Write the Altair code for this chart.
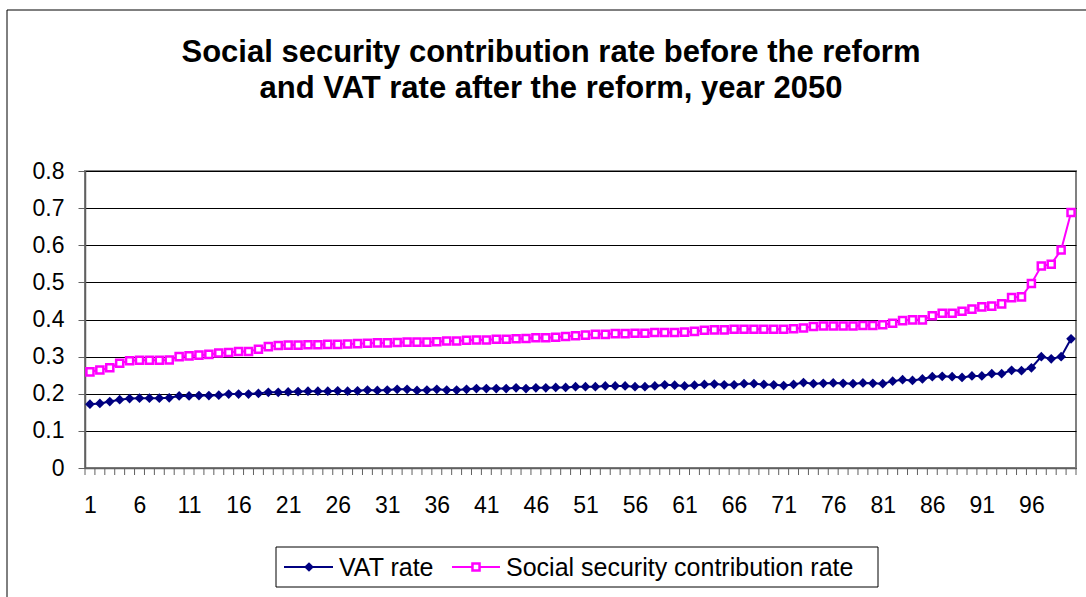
import altair as alt
import pandas as pd

categories = list(range(1, 101))

vat_rate = [
    0.172, 0.174, 0.179, 0.184, 0.187, 0.188, 0.188, 0.188, 0.189, 0.194,
    0.194, 0.195, 0.195, 0.196, 0.199, 0.199, 0.199, 0.201, 0.204, 0.204,
    0.205, 0.206, 0.207, 0.207, 0.207, 0.208, 0.207, 0.208, 0.210, 0.209,
    0.210, 0.212, 0.212, 0.209, 0.210, 0.212, 0.210, 0.210, 0.212, 0.214,
    0.214, 0.214, 0.214, 0.216, 0.214, 0.216, 0.216, 0.217, 0.217, 0.219,
    0.219, 0.219, 0.221, 0.221, 0.221, 0.219, 0.219, 0.221, 0.224, 0.223,
    0.221, 0.223, 0.225, 0.226, 0.224, 0.224, 0.227, 0.227, 0.225, 0.224,
    0.222, 0.225, 0.230, 0.227, 0.228, 0.229, 0.228, 0.227, 0.229, 0.228,
    0.227, 0.234, 0.238, 0.236, 0.240, 0.246, 0.247, 0.246, 0.244, 0.248,
    0.248, 0.254, 0.254, 0.263, 0.262, 0.270, 0.300, 0.294, 0.300, 0.348,
]

ssc_rate = [
    0.259, 0.264, 0.270, 0.282, 0.289, 0.290, 0.290, 0.290, 0.291, 0.300,
    0.302, 0.304, 0.306, 0.310, 0.311, 0.314, 0.314, 0.320, 0.327, 0.330,
    0.331, 0.331, 0.332, 0.332, 0.333, 0.333, 0.334, 0.335, 0.336, 0.337,
    0.337, 0.338, 0.339, 0.339, 0.339, 0.340, 0.342, 0.342, 0.344, 0.345,
    0.345, 0.347, 0.347, 0.348, 0.349, 0.351, 0.351, 0.352, 0.354, 0.356,
    0.358, 0.360, 0.360, 0.362, 0.362, 0.363, 0.363, 0.365, 0.365, 0.365,
    0.366, 0.368, 0.371, 0.372, 0.372, 0.3735, 0.3735, 0.3735, 0.3735, 0.3735,
    0.3735, 0.375, 0.377, 0.381, 0.3825, 0.3825, 0.3825, 0.3825, 0.384, 0.384,
    0.386, 0.390, 0.397, 0.399, 0.399, 0.410, 0.417, 0.417, 0.422, 0.428,
    0.434, 0.436, 0.442, 0.459, 0.461, 0.497, 0.544, 0.549, 0.587, 0.688,
]

series_names = ["VAT rate", "Social security contribution rate"]
x_labels = [1, 6, 11, 16, 21, 26, 31, 36, 41, 46, 51, 56, 61, 66, 71, 76, 81, 86, 91, 96]
y_ticks = [0, 0.1, 0.2, 0.3, 0.4, 0.5, 0.6, 0.7, 0.8]
title_lines = ["Social security contribution rate before the reform",
               "and VAT rate after the reform, year 2050"]

NAVY = "#000080"
PINK = "#FF00FF"
FONT = "Liberation Sans"
LABEL_SIZE = 23
AXIS_GRAY = "#606060"

W, H = 991, 297
PAD_L, PAD_T, PAD_R, PAD_B = 85, 171, 10, 129

df = pd.concat([
    pd.DataFrame({"cat": categories, "value": vat_rate, "series": series_names[0]}),
    pd.DataFrame({"cat": categories, "value": ssc_rate, "series": series_names[1]}),
])
bounds_df = pd.DataFrame({"b": [c - 0.5 for c in categories] + [categories[-1] + 0.5]})
legend_df = pd.DataFrame({"series": series_names})

x_scale = alt.Scale(domain=[categories[0] - 0.5, categories[-1] + 0.5], nice=False, zero=False)
y_scale = alt.Scale(domain=[0, 0.8], nice=False)
color_scale = alt.Scale(domain=series_names, range=[NAVY, PINK])

x_axis = alt.Axis(
    values=x_labels, title=None, grid=False, ticks=False, tickSize=0,
    labelFont=FONT, labelFontSize=LABEL_SIZE, labelColor="#000000", labelPadding=26,
    domainColor=AXIS_GRAY, domainWidth=1.5, labelFlush=False, labelOverlap=False)
y_axis = alt.Axis(
    values=y_ticks, format="~g", title=None, grid=True, gridColor="#000000",
    gridWidth=1, gridOpacity=1, tickSize=7, tickColor=AXIS_GRAY, labelFont=FONT,
    labelFontSize=LABEL_SIZE, labelColor="#000000", labelPadding=14,
    domainColor=AXIS_GRAY, domainWidth=1.5, labelOverlap=False)

x_enc = alt.X("cat:Q", scale=x_scale, axis=x_axis)
y_enc = alt.Y("value:Q", scale=y_scale, axis=y_axis)

base = alt.Chart(df)

lines = base.mark_line(strokeWidth=2).encode(
    x=x_enc, y=y_enc,
    color=alt.Color("series:N", scale=color_scale, legend=None),
    detail="series:N",
)

DIAMOND = dict(shape="diamond", filled=True, color=NAVY, size=95, opacity=1)
SQUARE = dict(shape="square", filled=True, fill="#FFFFFF", stroke=PINK,
              strokeWidth=2.5, size=50, opacity=1)

vat_points = base.transform_filter(alt.datum.series == series_names[0]).mark_point(
    **DIAMOND).encode(x=x_enc, y=y_enc)
ssc_points = base.transform_filter(alt.datum.series == series_names[1]).mark_point(
    **SQUARE).encode(x=x_enc, y=y_enc)

ticks = alt.Chart(bounds_df).mark_rule(color=AXIS_GRAY, strokeWidth=1).encode(
    x=alt.X("b:Q", scale=x_scale, axis=x_axis),
    y=alt.value(H), y2=alt.value(H + 7),
)

# ---- legend (drawn as a boxed key below the plot) ----
LG_Y = 567 - PAD_T
leg = alt.Chart(legend_df)
leg_box = leg.transform_filter(alt.datum.series == series_names[0]).mark_rect(
    fill="#FFFFFF", stroke="#000000", strokeWidth=1).encode(
    x=alt.value(276 - PAD_L), x2=alt.value(878 - PAD_L),
    y=alt.value(547 - PAD_T), y2=alt.value(587 - PAD_T))
leg_vat = leg.transform_filter(alt.datum.series == series_names[0])
leg_ssc = leg.transform_filter(alt.datum.series == series_names[1])
leg_vat_line = leg_vat.mark_rule(color=NAVY, strokeWidth=2).encode(
    x=alt.value(284 - PAD_L), x2=alt.value(333 - PAD_L), y=alt.value(LG_Y))
leg_vat_sym = leg_vat.mark_point(**DIAMOND).encode(
    x=alt.value(309 - PAD_L), y=alt.value(LG_Y))
leg_vat_txt = leg_vat.mark_text(
    font=FONT, fontSize=25, align="left", baseline="middle", color="#000000").encode(
    text="series:N", x=alt.value(339 - PAD_L), y=alt.value(LG_Y + 1))
leg_ssc_line = leg_ssc.mark_rule(color=PINK, strokeWidth=2).encode(
    x=alt.value(452 - PAD_L), x2=alt.value(500 - PAD_L), y=alt.value(LG_Y))
leg_ssc_sym = leg_ssc.mark_point(**SQUARE).encode(
    x=alt.value(476 - PAD_L), y=alt.value(LG_Y))
leg_ssc_txt = leg_ssc.mark_text(
    font=FONT, fontSize=25, align="left", baseline="middle", color="#000000").encode(
    text="series:N", x=alt.value(506 - PAD_L), y=alt.value(LG_Y + 1))

# ---- title and outer frame ----
title_df = pd.DataFrame({"t": ["\n".join(title_lines)]})
title = alt.Chart(title_df).mark_text(
    font=FONT, fontSize=31, fontWeight="bold", lineBreak="\n", lineHeight=36,
    align="center", baseline="top", color="#000000",
).encode(text="t:N", x=alt.value(551 - PAD_L), y=alt.value(38 - PAD_T))

frame = alt.Chart(title_df).mark_rule(color="#000000", strokeWidth=1).encode(
    x=alt.value(7 - PAD_L), x2=alt.value(1086 - PAD_L),
    y=alt.value(10 - PAD_T),
)
frame_left = alt.Chart(title_df).mark_rule(color="#000000", strokeWidth=1).encode(
    x=alt.value(7 - PAD_L), y=alt.value(10 - PAD_T), y2=alt.value(597 - PAD_T),
)

chart = alt.layer(
    lines, frame, frame_left, title, ticks, vat_points, ssc_points,
    leg_box, leg_vat_line, leg_vat_sym, leg_vat_txt,
    leg_ssc_line, leg_ssc_sym, leg_ssc_txt,
).properties(
    width=W, height=H,
    autosize=alt.AutoSizeParams(type="none"),
    padding={"left": PAD_L, "top": PAD_T, "right": PAD_R, "bottom": PAD_B},
    background="#FFFFFF",
).configure_view(
    stroke="#808080", strokeWidth=2,
)

chart.save("out.html", embed_options={"renderer": "svg", "actions": False})
